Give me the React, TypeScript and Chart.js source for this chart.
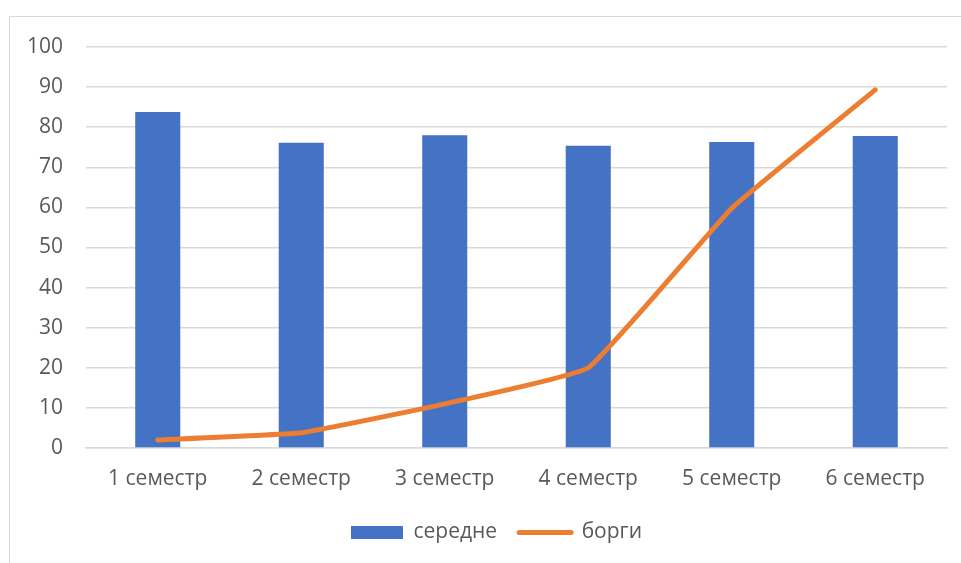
import React, { useEffect, useRef } from "react";
import { Chart, registerables } from "chart.js";

Chart.register(...registerables);

const semesters = ["1 семестр", "2 семестр", "3 семестр", "4 семестр", "5 семестр", "6 семестр"];
const averageScores = [83.8, 76.1, 78, 75.4, 76.3, 77.8];
const debts = [2, 3.8, 11, 20, 59.8, 89.3];
const yTicks = { min: 0, max: 100, step: 10 };

const FONT = "'Open Sans', 'Liberation Sans', sans-serif";
const FONT_SIZE = 21;
const TEXT = "#595959";
const GRID = "#d9d9d9";

// Moves the legend block so it sits centred under the whole frame
// and a little closer to the category labels.
const legendOffset = {
  id: "legendOffset",
  afterLayout(chart: any) {
    const lg = chart.legend;
    if (!lg) return;
    lg.left += 23;
    lg.right += 23;
    lg.top -= 10;
    lg.bottom -= 10;
  },
};

export default function App() {
  const canvasRef = useRef<HTMLCanvasElement | null>(null);

  useEffect(() => {
    const canvas = canvasRef.current;
    if (!canvas) return;
    const chart = new Chart(canvas, {
      type: "bar",
      data: {
        labels: semesters,
        datasets: [
          {
            type: "bar",
            label: "середне",
            data: averageScores,
            backgroundColor: "#4472C4",
            borderWidth: 0,
            categoryPercentage: 1,
            barPercentage: 0.314,
            order: 2,
          },
          {
            type: "line",
            label: "борги",
            data: debts,
            borderColor: "#ED7D31",
            backgroundColor: "#ED7D31",
            borderWidth: 5,
            borderCapStyle: "round",
            borderJoinStyle: "round",
            pointRadius: 0,
            tension: 0.1,
            order: 1,
          },
        ],
      },
      plugins: [legendOffset],
      options: {
        responsive: false,
        animation: false,
        devicePixelRatio: 1,
        layout: { padding: { left: 0, right: 14, top: 47, bottom: 0 } },
        scales: {
          x: {
            grid: { display: false, drawTicks: false },
            border: { display: true, color: GRID, width: 1.5 },
            ticks: { color: TEXT, font: { family: FONT, size: FONT_SIZE }, padding: 18 },
            afterFit: (axis: any) => {
              axis.height = 62;
            },
          },
          y: {
            min: yTicks.min,
            max: yTicks.max,
            grid: { color: GRID, lineWidth: 1.5, drawTicks: false },
            border: { display: false },
            ticks: {
              stepSize: yTicks.step,
              color: TEXT,
              font: { family: FONT, size: FONT_SIZE },
              padding: 23,
            },
            afterFit: (axis: any) => {
              axis.width = 86;
            },
          },
        },
        plugins: {
          tooltip: { enabled: false },
          legend: {
            position: "bottom",
            labels: {
              usePointStyle: true,
              pointStyleWidth: 52,
              boxHeight: 13,
              padding: 22,
              color: TEXT,
              font: { family: FONT, size: FONT_SIZE },
              generateLabels: (c: any) =>
                c.data.datasets.map((ds: any, i: number) => ({
                  text: ds.label,
                  fillStyle: ds.backgroundColor,
                  strokeStyle: ds.type === "line" ? ds.borderColor : ds.backgroundColor,
                  lineWidth: ds.type === "line" ? 5 : 0,
                  lineCap: "round",
                  pointStyle: ds.type === "line" ? "line" : "rect",
                  fontColor: TEXT,
                  hidden: false,
                  datasetIndex: i,
                })),
            },
          },
        },
      },
    });
    return () => chart.destroy();
  }, []);

  return (
    <div
      style={{
        position: "fixed",
        left: 0,
        top: 0,
        width: 961,
        height: 563,
        overflow: "hidden",
        background: "#ffffff",
      }}
    >
      <div
        style={{
          position: "absolute",
          left: 9,
          top: 16,
          width: 1000,
          height: 600,
          border: `1.5px solid ${GRID}`,
          boxSizing: "border-box",
        }}
      />
      <canvas
        ref={canvasRef}
        width={961}
        height={563}
        style={{ position: "absolute", left: 0, top: 0, width: 961, height: 563 }}
      />
    </div>
  );
}
